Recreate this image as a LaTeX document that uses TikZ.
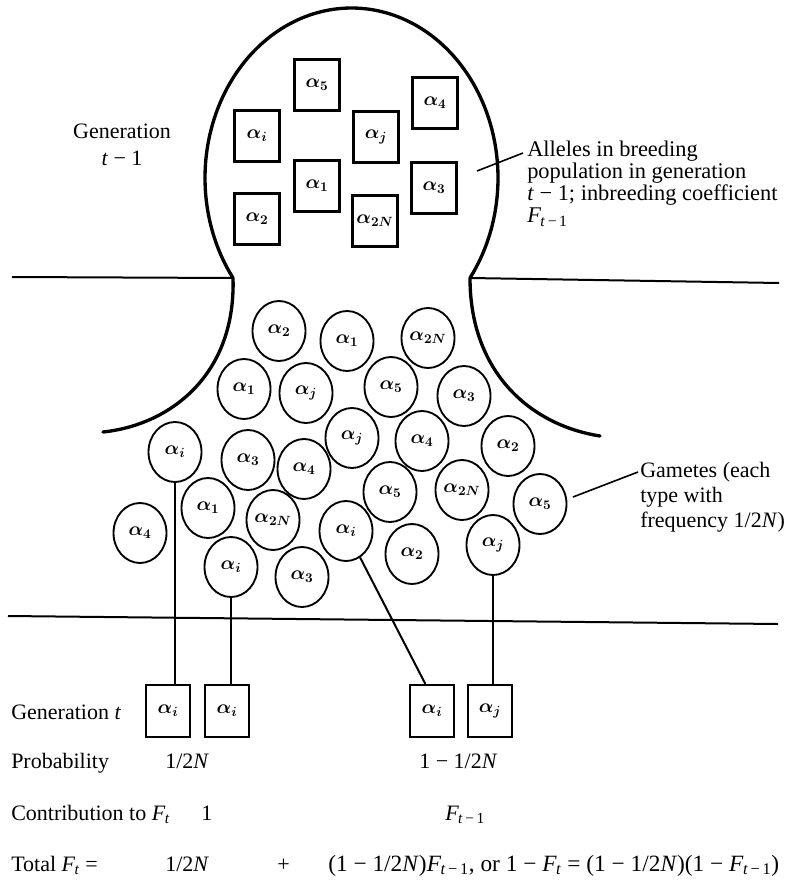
\documentclass[tikz,border=0pt]{standalone}
\usepackage{fontspec}
\setmainfont{Liberation Serif}
\usetikzlibrary{shapes.geometric,calc}
\newcommand{\alfont}{\fontsize{14.5}{14.5}\selectfont\boldmath}
\newcommand{\txtfont}{\fontsize{16.5}{16.5}\selectfont}
\newcommand{\alx}[1]{$\alpha_{#1}$}
\newcommand{\Fsb}[1]{\textit{F}\kern-0.5pt\textsubscript{#1}}
\begin{document}
\begin{tikzpicture}[x=0.75pt,y=-0.75pt,
  gam/.style={ellipse, draw, line width=1.4pt, minimum width=39.75pt, minimum height=45pt, inner sep=0pt, font=\alfont},
  allele/.style={rectangle, draw, line width=1.7pt, minimum width=33.75pt, minimum height=38.25pt, inner sep=0pt, font=\alfont},
  zyg/.style={allele, minimum width=33pt, minimum height=39pt},
  lbl/.style={font=\txtfont, inner sep=0pt, anchor=base west},
  blk/.style={font=\txtfont, inner sep=0pt, align=left, anchor=north west},
  rule/.style={line width=1.5pt},
  outline/.style={line width=2.5pt, line cap=round},
  stem/.style={line width=1.5pt},
  leader/.style={line width=1.2pt}]
\useasboundingbox[fill=white] (0,0) rectangle (786,884);

% bulb and flares
\coordinate (neckL) at (233,278);
\coordinate (neckR) at (470,278);
\draw[outline] plot[domain=144:396, samples=120, smooth] ({351.5+146.5*cos(\x)},{178+170*sin(\x)});
\draw[outline] (neckL) .. controls (236,375) and (170,425) .. (103,432);
\draw[outline] (neckR) .. controls (470,372) and (530,425) .. (600,436);

% horizontal rules
\coordinate (ruleLa) at (12,277);
\coordinate (ruleRb) at (779,283);
\coordinate (ruleBa) at (8,616);
\coordinate (ruleBb) at (778,624);
\draw[rule] (ruleLa) -- (neckL);
\draw[rule] (neckR) -- (ruleRb);
\draw[rule] (ruleBa) -- (ruleBb);

% alleles in generation t-1
\node[allele] (b5)  at (317,85)  {\alx{5}};
\node[allele] (bi)  at (257,136) {\alx{i}};
\node[allele] (bj)  at (376,137) {\alx{j}};
\node[allele] (b4)  at (435,103) {\alx{4}};
\node[allele] (b1)  at (317,186) {\alx{1}};
\node[allele] (b3)  at (434,188) {\alx{3}};
\node[allele] (b2)  at (257,219) {\alx{2}};
\node[allele] (b2N) at (375,221) {\alx{2N}};

% gametes
\node[gam] (c1)  at (279,331) {\alx{2}};
\node[gam] (c2)  at (347,341) {\alx{1}};
\node[gam] (c3)  at (428,338) {\alx{2N}};
\node[gam] (c4)  at (244,389) {\alx{1}};
\node[gam] (c5)  at (306,393) {\alx{j}};
\node[gam] (c6)  at (391,387) {\alx{5}};
\node[gam] (c7)  at (464,396) {\alx{3}};
\node[gam] (c8)  at (352,438) {\alx{j}};
\node[gam] (c9)  at (422,441) {\alx{4}};
\node[gam] (c10) at (508,446) {\alx{2}};
\node[gam] (c11) at (175,452) {\alx{i}};
\node[gam] (c12) at (248,460) {\alx{3}};
\node[gam] (c13) at (304,469) {\alx{4}};
\node[gam] (c14) at (208,508) {\alx{1}};
\node[gam] (c15) at (140,533) {\alx{4}};
\node[gam] (c16) at (273,520) {\alx{2N}};
\node[gam] (c17) at (390,492) {\alx{5}};
\node[gam] (c18) at (462,490) {\alx{2N}};
\node[gam] (c19) at (540,504) {\alx{5}};
\node[gam] (c20) at (346,531) {\alx{i}};
\node[gam] (c21) at (412,554) {\alx{2}};
\node[gam] (c22) at (493,545) {\alx{j}};
\node[gam] (c23) at (231,567) {\alx{i}};
\node[gam] (c24) at (302,577) {\alx{3}};

% generation t
\node[zyg] (g1) at (168,711) {\alx{i}};
\node[zyg] (g2) at (227,711) {\alx{i}};
\node[zyg] (g3) at (432,711) {\alx{i}};
\node[zyg] (g4) at (490,711) {\alx{j}};

\draw[stem] (c11.south) -- (c11.south |- g1.north);
\draw[stem] (c23.south) -- (c23.south |- g2.north);
\draw[stem] (c20.-62) -- ([xshift=-5pt]g3.north);
\draw[stem] (c22.south) -- (c22.south |- g4.north);

% labels
\node[font=\txtfont, inner sep=0pt, align=center] (gen1) at (122,145)
  {Generation\\[4pt]\textit{t} − 1};

\node[blk, font=\fontsize{16.8}{16.5}\selectfont] (alleles) at (527,141)
  {Alleles in breeding\\population in generation\\\textit{t} − 1; inbreeding coefficient\\\Fsb{\textit{t}\,−\,1}};
\coordinate (allA) at (477,171);
\coordinate (allB) at (523,153);
\draw[leader] (allA) -- (allB);

\node[blk, font=\fontsize{16.5}{18.75}\selectfont] (gametes) at (640,462)
  {Gametes (each\\type with\\frequency 1/2\textit{N})};
\coordinate (gamA) at (573,497);
\coordinate (gamB) at (638,472);
\draw[leader] (gamA) -- (gamB);

\node[lbl] (rgen) at (11,719) {Generation \textit{t}};
\node[lbl] (rprob) at (11,768) {Probability};
\node[lbl] (p1) at (165,768) {1/2\textit{N}};
\node[lbl] (p2) at (419,768) {1 − 1/2\textit{N}};
\node[lbl] (rcon) at (11,820) {Contribution to \Fsb{\textit{t}}};
\node[lbl] (k1) at (201,820) {1};
\node[lbl] (k2) at (445,820) {\Fsb{\textit{t}\,−\,1}};
\node[lbl] (rtot) at (11,871) {Total \Fsb{\textit{t}} =};
\node[lbl] (t1) at (165,871) {1/2\textit{N}};
\node[lbl] (tplus) at (277,871) {+};
\node[lbl, font=\fontsize{17.5}{17.5}\selectfont] (t2) at (328,871) {(1 − 1/2\textit{N})\Fsb{\textit{t}\,−\,1}, or 1 − \Fsb{\textit{t}} = (1 − 1/2\textit{N})(1 − \Fsb{\textit{t}\,−\,1})};
\end{tikzpicture}
\end{document}
